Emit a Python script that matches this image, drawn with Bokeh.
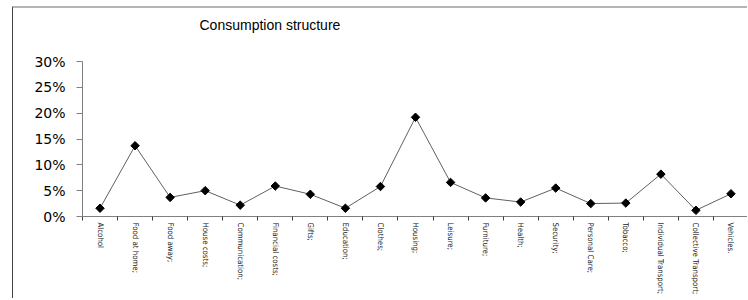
import math
from bokeh.plotting import figure
from bokeh.models import FixedTicker, NumeralTickFormatter, Range1d, ColumnDataSource, Title
from bokeh.embed import file_html
from bokeh.resources import INLINE

categories = ["Alcohol", "Food at home;", "Food away;", "House costs;", "Communication;",
              "Financial costs;", "Gifts;", "Education;", "Clothes;", "Housing;", "Leisure;",
              "Furniture;", "Health;", "Security;", "Personal Care;", "Tobacco;",
              "Individual Transport;", "Collective Transport;", "Vehicles."]
shares = [0.016, 0.137, 0.037, 0.050, 0.022, 0.059, 0.043, 0.016, 0.058, 0.192, 0.066,
          0.036, 0.028, 0.055, 0.025, 0.026, 0.082, 0.012, 0.044]
y_ticks = [0.0, 0.05, 0.10, 0.15, 0.20, 0.25, 0.30]

n = len(categories)
xs = [i + 0.5 for i in range(n)]
src = ColumnDataSource(dict(x=xs, y=shares, cat=categories))

p = figure(width=735, height=292, output_backend="svg", toolbar_location=None,
           x_range=Range1d(0, n), y_range=Range1d(0, 0.30),
           min_border_left=69, min_border_right=0, min_border_top=53, min_border_bottom=84)
p.margin = (6, 0, 0, 12)
p.styles = {"border-left": "1px solid #404040", "border-top": "2px solid #b4b4b4"}
p.outline_line_color = None
p.xgrid.visible = False
p.ygrid.visible = False
p.background_fill_color = "white"
p.border_fill_color = "white"

p.title = None
spacer = Title(text=" ", text_font_size="1px", standoff=26)
main_title = Title(text="Consumption structure", align="left", offset=117, standoff=0,
                   text_font="Liberation Sans", text_font_size="14px",
                   text_font_style="normal", text_color="black")
p.add_layout(spacer, "above")
p.add_layout(main_title, "above")

p.line("x", "y", source=src, line_color="#606060", line_width=1)
p.scatter("x", "y", source=src, marker="square", angle=math.pi / 4, size=6,
          fill_color="black", line_color="black")

xa = p.xaxis[0]
xa.ticker = FixedTicker(ticks=xs, minor_ticks=list(range(0, n + 1)))
xa.major_label_overrides = {x: c for x, c in zip(xs, categories)}
xa.major_tick_out = 0
xa.major_tick_in = 0
xa.minor_tick_out = 4
xa.minor_tick_in = 0
xa.minor_tick_line_color = "#404040"
xa.axis_line_color = "#808080"
xa.major_label_orientation = "vertical"
xa.major_label_text_font = "DejaVu Sans Condensed"
xa.major_label_text_font_size = "7.8px"
xa.major_label_text_color = "#202020"
xa.major_label_standoff = 2

ya = p.yaxis[0]
ya.ticker = FixedTicker(ticks=y_ticks)
ya.formatter = NumeralTickFormatter(format="0%")
ya.minor_tick_line_color = None
ya.major_tick_out = 6
ya.major_tick_in = 0
ya.major_tick_line_color = "#808080"
ya.axis_line_color = "#808080"
ya.major_label_text_font = "DejaVu Sans"
ya.major_label_text_font_size = "14px"
ya.major_label_text_color = "black"
ya.major_label_standoff = 11

open("out.html", "w").write(file_html(p, INLINE))
